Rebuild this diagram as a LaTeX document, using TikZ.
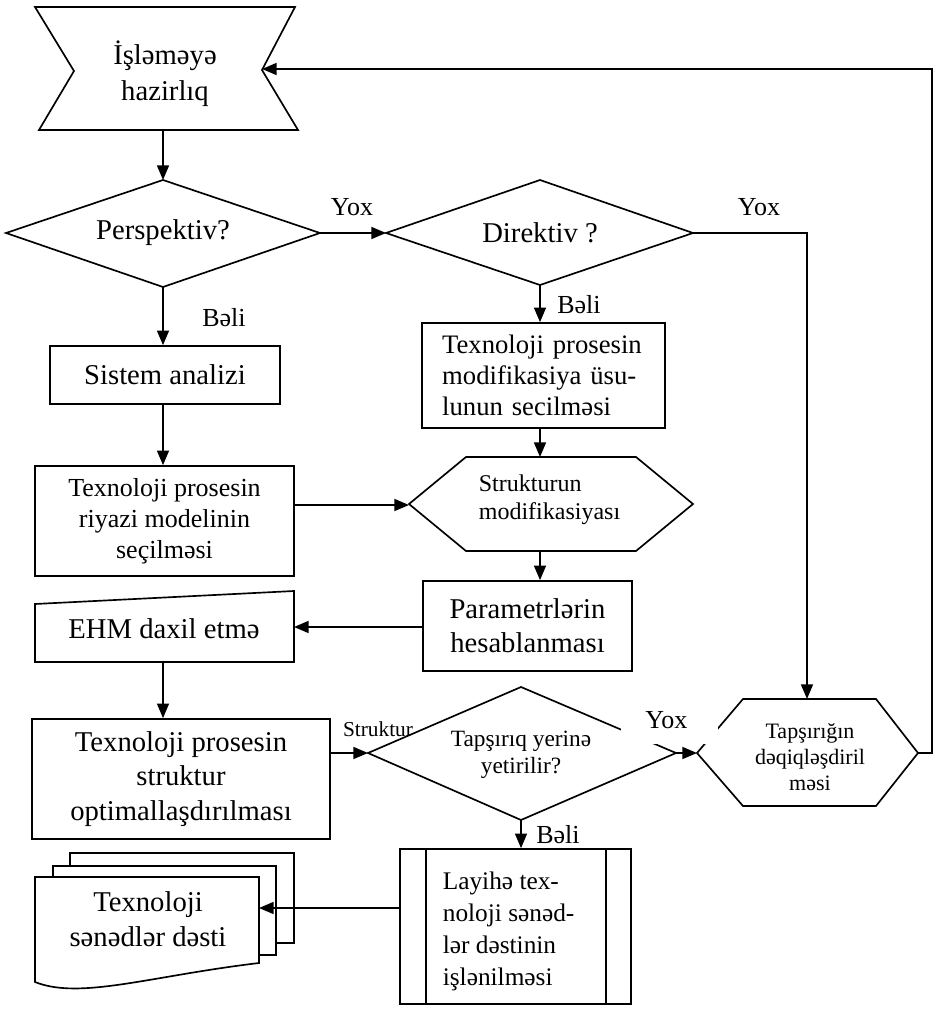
\documentclass[tikz,border=0pt]{standalone}
\usepackage{fontspec}
\setmainfont{Liberation Serif}
\usetikzlibrary{arrows.meta}
\begin{document}
\begin{tikzpicture}[x=0.75pt,y=-0.75pt,
  line width=1.25pt,
  arr/.style={-{Triangle[length=11pt,width=9pt]}},
  box/.style={draw, inner sep=0pt, align=center},
  bigtxt/.style={font=\fontsize{21.5}{25.5}\selectfont},
  lbl/.style={font=\fontsize{19.5}{22}\selectfont, inner sep=0pt},
  slbl/.style={font=\fontsize{16}{19}\selectfont, inner sep=0pt}]
\useasboundingbox (0,0) rectangle (937,1009);

% start: preparation for processing
\draw (35,7) -- (295,7) -- (262,70) -- (298,130) -- (39,130) -- (74,71) -- cycle;
\node[font=\fontsize{21.5}{27}\selectfont, align=center] (start) at (165,74) {İşləməyə\\hazirlıq};
\coordinate (start-s) at (163,130);
\coordinate (start-e) at (262,69);

% decision: perspective
\draw (6,233) -- (163,180) -- (320,233) -- (163,287) -- cycle;
\node[bigtxt] (pers) at (163,233) {Perspektiv?};
\coordinate (pers-n) at (163,180);
\coordinate (pers-s) at (163,287);
\coordinate (pers-e) at (320,233);

% decision: directive
\draw (386,233) -- (540,180) -- (693,233) -- (540,285) -- cycle;
\node[bigtxt] (dir) at (540,233) {Direktiv ?};
\coordinate (dir-w) at (386,233);
\coordinate (dir-e) at (693,233);
\coordinate (dir-s) at (540,285);

% system analysis
\node[box, bigtxt, minimum width=172.5pt, minimum height=43.5pt] (sistem) at (165,375) {Sistem analizi};

% modification method
\node[draw, align=left, text width=152pt, inner xsep=15pt, inner ysep=0pt,
      minimum height=78.75pt, font=\fontsize{20}{23}\selectfont] (dirbox) at (543.5,375.5)
  {Texnoloji prosesin\\modifikasiya üsu-\\lunun secilməsi};

% structure modification (hexagon)
\draw (409,504) -- (466,457) -- (636,457) -- (693,504) -- (636,551) -- (466,551) -- cycle;
\node[font=\fontsize{18}{21}\selectfont, align=left, anchor=west, inner sep=0pt] (strmod) at (478,500) {Strukturun\\modifikasiyası};
\coordinate (str-n) at (540,457);
\coordinate (str-s) at (540,551);
\coordinate (str-w) at (409,505);

% mathematical model
\node[box, font=\fontsize{19.5}{23.25}\selectfont, minimum width=194.25pt, minimum height=82.5pt] (riyazi) at (164.5,521)
  {Texnoloji prosesin\\riyazi modelinin\\seçilməsi};

% parameter calculation
\node[box, font=\fontsize{21.5}{25.5}\selectfont, minimum width=156.75pt, minimum height=67.5pt] (param) at (527.5,626)
  {Parametrlərin\\hesablanması};

% manual input
\draw (35,604) -- (294,591) -- (294,662) -- (35,662) -- cycle;
\node[bigtxt] (ehm) at (164,629) {EHM daxil etmə};
\coordinate (ehm-e) at (294,627);
\coordinate (ehm-s) at (163,662);

% structural optimisation
\node[box, font=\fontsize{21.5}{26}\selectfont, minimum width=223.5pt, minimum height=90pt] (strukbox) at (181,779)
  {Texnoloji prosesin\\struktur\\optimallaşdırılması};

% decision: task fulfilled
\node[slbl] (strlbl) at (378,729) {Struktur};
\draw (368,753) -- (521,687) -- (676,753) -- (521,820) -- cycle;
\node[font=\fontsize{17.5}{20}\selectfont, align=center] (tp) at (521,755) {Tapşırıq yerinə\\yetirilir?};
\coordinate (tp-w) at (368,753);
\coordinate (tp-e) at (676,753);
\coordinate (tp-s) at (521,820);

% task refinement (hexagon)
\draw (697,753) -- (743,699) -- (876,699) -- (918,753) -- (876,806) -- (743,806) -- cycle;
\node[font=\fontsize{16.5}{19.5}\selectfont, align=center] (tg) at (810,757) {Tapşırığın\\dəqiqləşdiril\\məsi};
\coordinate (tg-n) at (807,699);
\coordinate (tg-w) at (697,753);
\coordinate (tg-e) at (918,753);

% project documentation
\node[box, minimum width=173.25pt, minimum height=116.25pt] (layihe) at (515.5,926.5) {};
\draw ([xshift=20.25pt]layihe.north west) -- ([xshift=20.25pt]layihe.south west);
\draw ([xshift=-19.5pt]layihe.north east) -- ([xshift=-19.5pt]layihe.south east);
\node[font=\fontsize{19}{24}\selectfont, align=left, anchor=west, inner sep=0pt] (layihetxt) at (442,931)
  {Layihə tex-\\noloji sənəd-\\lər dəstinin\\işlənilməsi};

% document set
\draw[fill=white] (70,853) rectangle (294,943);
\draw[fill=white] (53,866) rectangle (276,955);
\draw[fill=white] (35,877) -- (259,877) -- (259,963) .. controls (150,976) and (80,1000) .. (35,982) -- cycle;
\node[font=\fontsize{21.5}{26}\selectfont, align=center] (docs) at (148,919) {Texnoloji\\sənədlər dəsti};
\coordinate (docs-e) at (259,908);

% connectors
\draw[arr] (start-s) -- (pers-n);
\draw[arr] (pers-e) -- (dir-w);
\node[lbl] (yox1) at (352,207) {Yox};
\draw[arr] (dir-e) -| (tg-n);
\node[lbl] (yox2) at (759,207) {Yox};
\draw[arr] (pers-s) -- (pers-s |- sistem.north);
\node[lbl] (beli1) at (224,318) {Bəli};
\draw[arr] (dir-s) -- (dir-s |- dirbox.north);
\node[lbl] (beli2) at (579,305) {Bəli};
\draw[arr] (str-n |- dirbox.south) -- (str-n);
\draw[arr] (pers-s |- sistem.south) -- (pers-s |- riyazi.north);
\draw[arr] (riyazi.east |- str-w) -- (str-w);
\draw[arr] (str-s) -- (str-s |- param.north);
\draw[arr] (param.west |- ehm-e) -- (ehm-e);
\draw[arr] (ehm-s) -- (ehm-s |- strukbox.north);
\draw[arr] (strukbox.east |- tp-w) -- (tp-w);
\draw[arr] (tp-e) -- (tg-w);
\node[lbl, fill=white, anchor=north west, minimum width=72.75pt, text height=15pt, text depth=11.25pt] (yox3) at (620,708) {Yox\hspace*{4.5pt}};
\draw[arr] (tg-e) -- ++(14,0) |- (start-e);
\draw[arr] (tp-s) -- (tp-s |- layihe.north);
\node[lbl] (beli3) at (558,835) {Bəli};
\draw[arr] (layihe.west |- docs-e) -- (docs-e);
\end{tikzpicture}
\end{document}
